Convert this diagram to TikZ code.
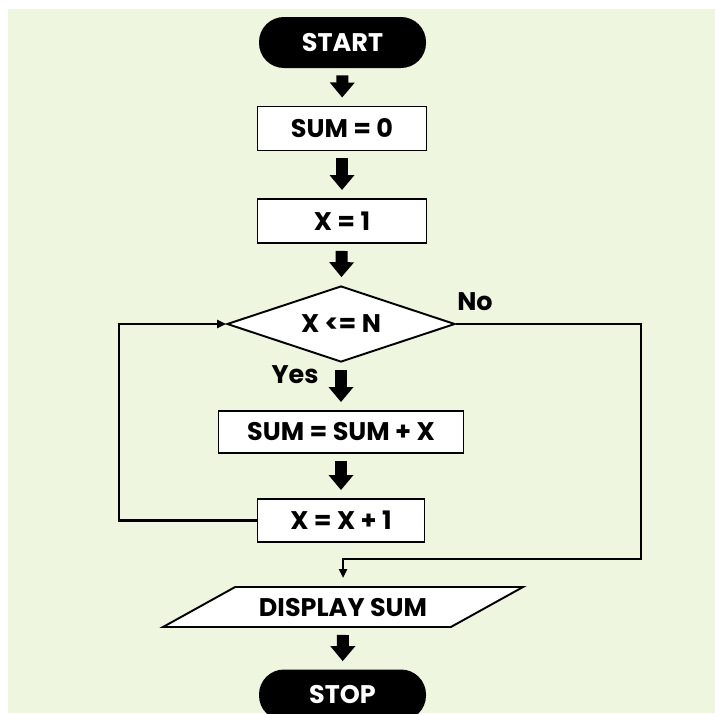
\documentclass[tikz,border=0pt]{standalone}
\usepackage{fontspec}
\setmainfont{Poppins}
\usetikzlibrary{shapes.geometric,arrows.meta}

\definecolor{paper}{RGB}{238,246,224}

\begin{document}
\begin{tikzpicture}[
  font=\bfseries\fontsize{14.5}{17}\selectfont,
  box/.style={draw, line width=1.1pt, fill=white, minimum width=3.38cm, minimum height=0.88cm},
  term/.style={fill=black, text=white, rounded corners=0.5cm, minimum width=3.34cm, minimum height=1.02cm},
  flow/.style={line width=2.4mm, -{Triangle[length=0.3cm, width=0.48cm]}, shorten <=0.14cm, shorten >=0.16cm},
  link/.style={line width=1.6pt, -{Triangle[length=1.8mm, width=1.6mm]}}
]
  \useasboundingbox (0,0) rectangle (14.3,-14.26);
  \clip (0,0) rectangle (14.3,-14.26);
  \fill[white] (0,0) rectangle (14.3,-14.26);
  \fill[paper] (0.16,-0.18) rectangle (14.3,-14.26);

  % steps, top to bottom
  \node[term] (start) at (6.85,-0.85) {START};
  \node[box] (sum0) at (6.84,-2.57) {SUM = 0};
  \node[box] (x1) at (6.84,-4.42) {X = 1};
  \node[diamond, aspect=3, draw, line width=1.1pt, fill=white, minimum width=4.56cm, minimum height=1.52cm, inner sep=0pt] (dec) at (6.82,-6.48) {X <= N};
  \node[box, minimum width=4.9cm, minimum height=0.84cm] (sumx) at (6.82,-8.64) {SUM = SUM + X};
  \node[box, minimum width=3.34cm, minimum height=0.86cm] (xinc) at (6.82,-10.41) {X = X + 1};
  \node[trapezium, draw, line width=1.1pt, fill=white, trapezium left angle=29, trapezium right angle=151,
        trapezium stretches body, minimum width=7.2cm, inner sep=0pt,
        text height=0.58cm, text depth=0.22cm] (disp) at (6.86,-12.14) {DISPLAY SUM};
  \node[term] (stop) at (6.85,-13.9) {STOP};

  \node (no) at (9.5,-6.04) {No};
  \node (yes) at (5.9,-7.5) {Yes};

  \coordinate (rbot) at (12.82,-11.18);
  \coordinate (loop) at (2.38,-6.48);

  \draw[flow] (start) -- (sum0);
  \draw[flow] (sum0) -- (x1);
  \draw[flow] (x1) -- (dec);
  \draw[flow] (dec) -- (sumx);
  \draw[flow] (sumx) -- (xinc);
  \draw[flow] (disp) -- (stop);

  \draw[link, shorten >=0.16cm] (dec.east) -| (rbot) -| (disp.north);
  \draw[link] (xinc.west) -| (loop) -- (dec.west);
\end{tikzpicture}
\end{document}
